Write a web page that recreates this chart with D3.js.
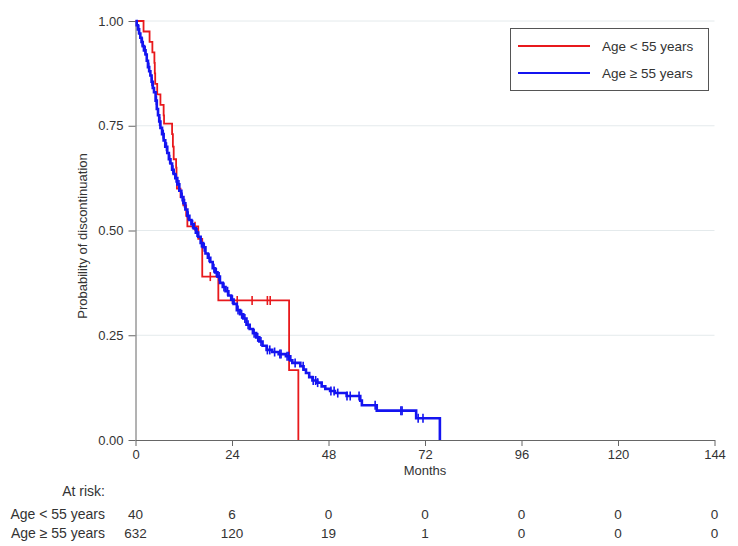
<!DOCTYPE html>
<html>
<head>
<meta charset="utf-8">
<script src="https://cdnjs.cloudflare.com/ajax/libs/d3/7.8.5/d3.min.js"></script>
<style>
  body { margin: 0; background: #fff; }
  text { font-family: "Liberation Sans", Arial, sans-serif; fill: #333; }
</style>
</head>
<body>
<div id="chart"></div>
<script>
// x axis ticks (months) and y axis ticks
var months = [0, 24, 48, 72, 96, 120, 144];
var yTicks = [0, 0.25, 0.5, 0.75, 1];
var groups = ["Age < 55 years", "Age \u2265 55 years"];
var colors = ["#e8191c", "#1414f0"];

// numbers at risk at each month tick
var riskYoung = [40, 6, 0, 0, 0, 0, 0];
var riskOld = [632, 120, 19, 1, 0, 0, 0];

// Kaplan-Meier steps [month, probability]
var kmYoung = [
  [0, 1], [2.0, 0.975], [3.5, 0.95], [4.2, 0.925], [4.7, 0.9], [4.8, 0.875],
  [4.9, 0.85], [5.4, 0.825], [6.2, 0.8], [7.0, 0.775], [7.1, 0.755], [9.1, 0.73],
  [9.3, 0.7], [9.5, 0.67], [10.1, 0.65], [10.2, 0.625], [10.3, 0.6], [11.2, 0.58],
  [11.9, 0.56], [12.6, 0.535], [12.9, 0.51], [15.6, 0.48], [16.6, 0.39],
  [20.6, 0.333], [38.2, 0.167], [40.5, 0]
];
var censorYoung = [14.8, 18.6, 25.3, 29.0, 32.8, 33.5];

var kmOld = [
  [0, 1], [0.3, 0.99], [0.6, 0.98], [0.9, 0.97], [1.2, 0.96], [1.5, 0.95],
  [1.8, 0.94], [2.1, 0.93], [2.5, 0.92], [2.8, 0.905], [3.1, 0.89], [3.4, 0.88],
  [3.7, 0.87], [4.0, 0.855], [4.3, 0.84], [4.6, 0.83], [5.0, 0.81], [5.3, 0.79],
  [5.6, 0.775], [5.9, 0.76], [6.2, 0.745], [6.6, 0.73], [7.0, 0.715], [7.4, 0.7],
  [7.9, 0.685], [8.3, 0.67], [8.7, 0.66], [9.1, 0.645], [9.5, 0.635], [9.9, 0.625],
  [10.4, 0.61], [10.9, 0.595], [11.4, 0.58], [11.9, 0.565], [12.4, 0.55],
  [12.9, 0.535], [13.4, 0.525], [13.9, 0.515], [14.5, 0.505], [15.0, 0.495],
  [15.6, 0.485], [16.2, 0.47], [16.8, 0.46], [17.4, 0.445], [18.0, 0.435],
  [18.6, 0.425], [19.2, 0.41], [19.8, 0.4], [20.4, 0.39], [21.0, 0.375],
  [21.7, 0.365], [22.4, 0.355], [23.1, 0.345], [23.8, 0.335], [24.4, 0.325],
  [25.2, 0.31], [26.0, 0.3], [26.8, 0.29], [27.6, 0.275], [28.4, 0.265],
  [29.2, 0.255], [30.0, 0.245], [30.8, 0.235], [31.6, 0.225], [32.6, 0.215],
  [34.0, 0.21], [35.6, 0.205], [37.4, 0.2], [38.5, 0.19], [39.0, 0.184],
  [41.0, 0.176], [41.8, 0.168], [42.4, 0.16], [43.2, 0.15], [44.0, 0.142],
  [45.2, 0.137], [46.3, 0.128], [47.2, 0.122], [48.4, 0.117], [49.6, 0.112],
  [52.5, 0.105], [55.9, 0.094], [56.3, 0.083], [60.0, 0.07], [69.8, 0.052],
  [75.7, 0]
];
var censorOld = [
  0.8, 1.7, 2.4, 3.3, 4.1, 5.2, 6.0, 6.9, 7.7, 8.5, 9.3, 10.1, 10.8, 11.6, 12.2,
  13.1, 14.2, 15.3, 16.4, 17.1, 18.3, 19.5, 20.1, 20.8, 22.0, 22.9, 24.1, 25.5,
  26.4, 27.2, 28.0, 29.5, 30.4, 31.2, 32.8, 33.4, 34.6, 35.9, 36.2, 37.7, 38.1,
  39.7, 41.7, 44.2, 44.8, 45.3, 48.6, 49.4, 50.3, 52.6, 53.4, 55.6, 59.6, 66.0,
  66.3, 70.3, 71.5
];

var svg = d3.select("#chart").append("svg")
    .attr("width", 738)
    .attr("height", 546);

var x = d3.scaleLinear().domain([0, 144]).range([135.5, 714.5]);
var y = d3.scaleLinear().domain([0, 1]).range([440, 21]);

// horizontal grid
svg.selectAll(".grid")
    .data(yTicks.filter(function(d) { return d > 0; }))
  .enter().append("line")
    .attr("x1", x(0))
    .attr("x2", x(144))
    .attr("y1", function(d) { return y(d); })
    .attr("y2", function(d) { return y(d); })
    .attr("stroke", "#e4eaec")
    .attr("stroke-width", 1);

function styleAxis(g) {
    g.selectAll("path, line").attr("stroke", "#666");
    g.selectAll("text")
        .attr("font-size", "13px")
        .attr("fill", "#333")
        .attr("font-family", "Liberation Sans, Arial, sans-serif");
}

svg.append("g")
    .attr("transform", "translate(" + x(0) + ",0)")
    .call(d3.axisLeft(y).tickValues(yTicks).tickFormat(d3.format(".2f")).tickSize(7).tickSizeOuter(0).tickPadding(5))
    .call(styleAxis);

svg.append("g")
    .attr("transform", "translate(0," + y(0) + ")")
    .call(d3.axisBottom(x).tickValues(months).tickSize(6).tickSizeOuter(0).tickPadding(4))
    .call(styleAxis);

svg.append("text")
    .attr("transform", "translate(87,236)rotate(-90)")
    .attr("text-anchor", "middle")
    .attr("font-size", "13px")
    .text("Probability of discontinuation");

svg.append("text")
    .attr("x", x(72))
    .attr("y", 475)
    .attr("text-anchor", "middle")
    .attr("font-size", "13px")
    .text("Months");

// curves
var line = d3.line()
    .x(function(d) { return x(d[0]); })
    .y(function(d) { return y(d[1]); })
    .curve(d3.curveStepAfter);

function stepAt(km, t) {
    var s = 1;
    km.forEach(function(p) { if (p[0] <= t) s = p[1]; });
    return s;
}

var series = [
    {km: kmOld, censor: censorOld, color: colors[1]},
    {km: kmYoung, censor: censorYoung, color: colors[0]}
];

// red first, blue drawn over it like the reference
[series[1], series[0]].forEach(function(s) {
    svg.append("path")
        .datum(s.km)
        .attr("fill", "none")
        .attr("stroke", s.color)
        .attr("stroke-width", s.km === kmOld ? 2.6 : 1.8)
        .attr("d", line);
    svg.selectAll(null)
        .data(s.censor)
      .enter().append("line")
        .attr("x1", function(d) { return x(d); })
        .attr("x2", function(d) { return x(d); })
        .attr("y1", function(d) { return y(stepAt(s.km, d)) - 4.5; })
        .attr("y2", function(d) { return y(stepAt(s.km, d)) + 4.5; })
        .attr("stroke", s.color)
        .attr("stroke-width", 1.6);
});

// legend
var legend = svg.append("g");
legend.append("rect")
    .attr("x", 510.5)
    .attr("y", 28.5)
    .attr("width", 198)
    .attr("height", 62)
    .attr("fill", "#fff")
    .attr("stroke", "#555")
    .attr("stroke-width", 1);
groups.forEach(function(g, i) {
    var ly = 46 + i * 27;
    legend.append("line")
        .attr("x1", 518).attr("x2", 590)
        .attr("y1", ly).attr("y2", ly)
        .attr("stroke", colors[i])
        .attr("stroke-width", 2);
    legend.append("text")
        .attr("x", 602)
        .attr("y", ly + 5)
        .attr("font-size", "13.5px")
        .text(g);
});

// at risk table
svg.append("text")
    .attr("x", 105)
    .attr("y", 496)
    .attr("text-anchor", "end")
    .attr("font-size", "14px")
    .text("At risk:");

[riskYoung, riskOld].forEach(function(row, i) {
    var ry = 519 + i * 18.5;
    svg.append("text")
        .attr("x", 105)
        .attr("y", ry)
        .attr("text-anchor", "end")
        .attr("font-size", "14px")
        .text(groups[i]);
    svg.selectAll(null)
        .data(row)
      .enter().append("text")
        .attr("x", function(d, j) { return x(months[j]); })
        .attr("y", ry)
        .attr("text-anchor", "middle")
        .attr("font-size", "13.5px")
        .text(function(d) { return d; });
});
</script>
</body>
</html>
